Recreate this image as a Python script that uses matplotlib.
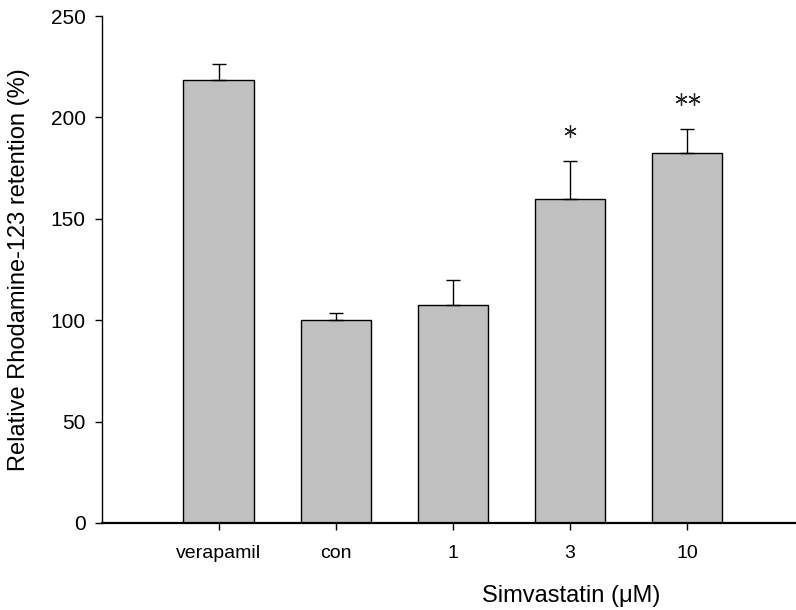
import matplotlib
matplotlib.use("Agg")
import matplotlib.pyplot as plt
import numpy as np

plt.rcParams['font.family'] = ['Liberation Sans', 'DejaVu Sans']

# data
groups = ["verapamil", "con", "1", "3", "10"]
means = [218.5, 100.0, 107.5, 160.0, 182.4]
errs = [7.8, 3.5, 12.2, 18.4, 11.9]
stars = ["", "", "", "*", "**"]

x = np.arange(len(groups))
means = np.array(means)
errs = np.array(errs)

fig = plt.figure(figsize=(7.96, 6.10), dpi=100)
ax = fig.add_axes([101.5/796, 87/610, (796-101.5)/796, (523-16)/610])

ax.bar(x, means, width=0.6, color="#c0c0c0", edgecolor="black", linewidth=1.0, zorder=2)
ax.errorbar(x, means, yerr=[np.zeros(len(x)), errs], fmt="none", ecolor="black",
            elinewidth=1.0, capsize=5.3, capthick=1.0, zorder=3)

# significance marks
for xi, m, e, s in zip(x, means, errs, stars):
    n = len(s)
    for k in range(n):
        dx = (k - (n - 1) / 2) * 0.11
        ax.plot(xi + dx, m + e + 15, marker=(6, 2, 0), color="#222222",
                markersize=9, markeredgewidth=0.9, zorder=4)

ax.set_xlim(-1.0, 4.93)
ax.set_ylim(0, 250)
ax.set_yticks([0, 50, 100, 150, 200, 250])
ax.set_xticks(x)
ax.set_xticklabels(groups, fontsize=14)
ax.tick_params(axis="y", labelsize=15, length=5, width=1.0, direction="out", pad=6.5)
ax.tick_params(axis="x", length=5, width=1.0, direction="out", pad=11)

ax.spines["top"].set_visible(False)
ax.spines["right"].set_visible(False)
ax.spines["bottom"].set_linewidth(1.6)
ax.spines["left"].set_linewidth(1.0)

fig.text(19/796, 1 - 270/610, "Relative Rhodamine-123 retention (%)", fontsize=17,
         rotation=90, ha="center", va="center")
fig.text(571/796, 1 - 596/610, "Simvastatin (\u03bcM)", fontsize=17, ha="center", va="center")

fig.savefig("out.png", dpi=100)
